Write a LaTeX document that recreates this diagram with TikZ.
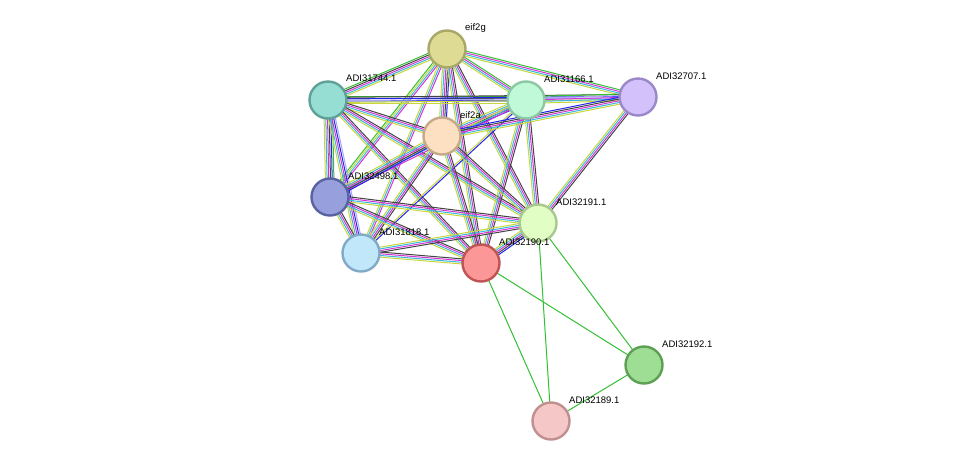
\documentclass[tikz,border=0pt]{standalone}
\usepackage{fontspec}
\setmainfont{Liberation Sans}
\usetikzlibrary{calc}
\pgfdeclarelayer{bg}\pgfsetlayers{bg,main}
\definecolor{eY}{HTML}{C8D83C}
\definecolor{eC}{HTML}{3CB8DC}
\definecolor{eM}{HTML}{D634D6}
\definecolor{eK}{HTML}{444444}
\definecolor{eB}{HTML}{2424EE}
\definecolor{eG}{HTML}{34C034}
\definecolor{eL}{HTML}{A8A8F4}
\definecolor{f1}{HTML}{DEDB94}\definecolor{d1}{HTML}{A9A766}
\definecolor{f2}{HTML}{96DDD3}\definecolor{d2}{HTML}{5FA196}
\definecolor{f3}{HTML}{C0F9D8}\definecolor{d3}{HTML}{8CC8A3}
\definecolor{f4}{HTML}{D2C1FB}\definecolor{d4}{HTML}{9B88C8}
\definecolor{f5}{HTML}{FDE0C1}\definecolor{d5}{HTML}{C7A98A}
\definecolor{f6}{HTML}{97A0DC}\definecolor{d6}{HTML}{5A63A1}
\definecolor{f7}{HTML}{E1FEC4}\definecolor{d7}{HTML}{A8C88E}
\definecolor{f8}{HTML}{C1E7FB}\definecolor{d8}{HTML}{82AAC6}
\definecolor{f9}{HTML}{FB9797}\definecolor{d9}{HTML}{C05454}
\definecolor{f10}{HTML}{9EDE94}\definecolor{d10}{HTML}{5F9F55}
\definecolor{f11}{HTML}{F5C7C7}\definecolor{d11}{HTML}{C08F8F}
\newcommand{\bundle}[3]{%
  \foreach \cc [count=\nn] in {#3}{\xdef\nbund{\nn}}%
  \foreach \cc [count=\ii] in {#3}{%
    \pgfmathsetmacro{\off}{(\ii-(\nbund+1)/2)*1.7}%
    \draw[\cc,line width=1pt] ($(#1.center)!\off pt!90:(#2.center)$) -- ($(#2.center)!\off pt!-90:(#1.center)$);
  }}
\tikzset{
  prot/.style={circle,minimum size=37pt,inner sep=0pt,line width=2.4pt,fill=f#1,draw=d#1},
  lab/.style={anchor=west,font=\fontsize{9.5}{11}\selectfont,inner sep=0pt}
}
\begin{document}
\begin{tikzpicture}[x=1pt,y=-1pt]
\useasboundingbox (0,0) rectangle (976,467);
\node[prot=1] (g) at (447,49) {};
\node[prot=2] (a44) at (328,100) {};
\node[prot=3] (a66) at (526,100) {};
\node[prot=4] (a07) at (638,97) {};
\node[prot=5] (e) at (442,136) {};
\node[prot=6] (a98) at (330,197) {};
\node[prot=7] (a91) at (538,223) {};
\node[prot=8] (a18) at (361,253) {};
\node[prot=9] (a90) at (481,263) {};
\node[prot=10] (a92) at (644,365) {};
\node[prot=11] (a89) at (551,421) {};
\node[lab] at ($(g)+(18,-21)$) {eif2g};
\node[lab] at ($(a44)+(18,-22)$) {ADI31744.1};
\node[lab] at ($(a66)+(18,-21)$) {ADI31166.1};
\node[lab] at ($(a07)+(18,-21)$) {ADI32707.1};
\node[lab] at ($(e)+(18,-21)$) {eif2a};
\node[lab] at ($(a98)+(18,-21)$) {ADI32498.1};
\node[lab] at ($(a91)+(18,-21)$) {ADI32191.1};
\node[lab] at ($(a18)+(18,-21)$) {ADI31818.1};
\node[lab] at ($(a90)+(18,-21)$) {ADI32190.1};
\node[lab] at ($(a92)+(18,-21)$) {ADI32192.1};
\node[lab] at ($(a89)+(18,-21)$) {ADI32189.1};
\begin{pgfonlayer}{bg}
\fill[white] (0,0) rectangle (976,467);
\bundle{g}{a44}{eG,eK,eM,eC,eY}
\bundle{g}{a66}{eY,eC,eM,eG}
\bundle{g}{a07}{eY,eC,eM,eG}
\bundle{g}{e}{eY,eC,eM,eK,eB}
\bundle{g}{a98}{eG,eY,eC,eM}
\bundle{g}{a91}{eY,eC,eM,eK}
\bundle{g}{a18}{eY,eC,eM}
\bundle{g}{a90}{eY,eC,eM,eK}
\bundle{a44}{a66}{eY,eL,eB,eK,eG}
\bundle{a44}{a07}{eY,eL,eB,eK}
\bundle{a44}{e}{eY,eC,eM,eK}
\bundle{a44}{a98}{eY,eC,eM,eK,eB,eG}
\bundle{a44}{a91}{eY,eC,eM,eK}
\bundle{a44}{a18}{eY,eC,eM,eB,eL}
\bundle{a44}{a90}{eY,eC,eM,eK}
\bundle{a66}{a07}{eY,eC,eM,eL,eG}
\bundle{a66}{e}{eY,eC,eM,eK,eB}
\bundle{a66}{a98}{eY,eC,eM}
\bundle{a66}{a91}{eY,eC,eM,eK}
\bundle{a66}{a90}{eY,eC,eM,eK}
\bundle{a66}{a18}{eY,eB}
\bundle{e}{a07}{eY,eC,eM,eK,eB}
\bundle{e}{a98}{eY,eC,eM,eK,eB}
\bundle{e}{a91}{eY,eC,eM,eK}
\bundle{e}{a18}{eY,eC,eM,eK}
\bundle{e}{a90}{eY,eC,eM,eK}
\bundle{a07}{a91}{eY,eC,eM,eK}
\bundle{a98}{a91}{eY,eC,eM,eK}
\bundle{a98}{a18}{eY,eC,eM,eK}
\bundle{a98}{a90}{eY,eC,eM,eK}
\bundle{a91}{a18}{eY,eC,eM,eK}
\bundle{a91}{a90}{eY,eC,eM,eK,eB}
\bundle{a18}{a90}{eY,eC,eM,eK}
\bundle{a90}{a92}{eG}
\bundle{a90}{a89}{eG}
\bundle{a91}{a92}{eG}
\bundle{a91}{a89}{eG}
\bundle{a92}{a89}{eG}
\end{pgfonlayer}
\end{tikzpicture}
\end{document}
